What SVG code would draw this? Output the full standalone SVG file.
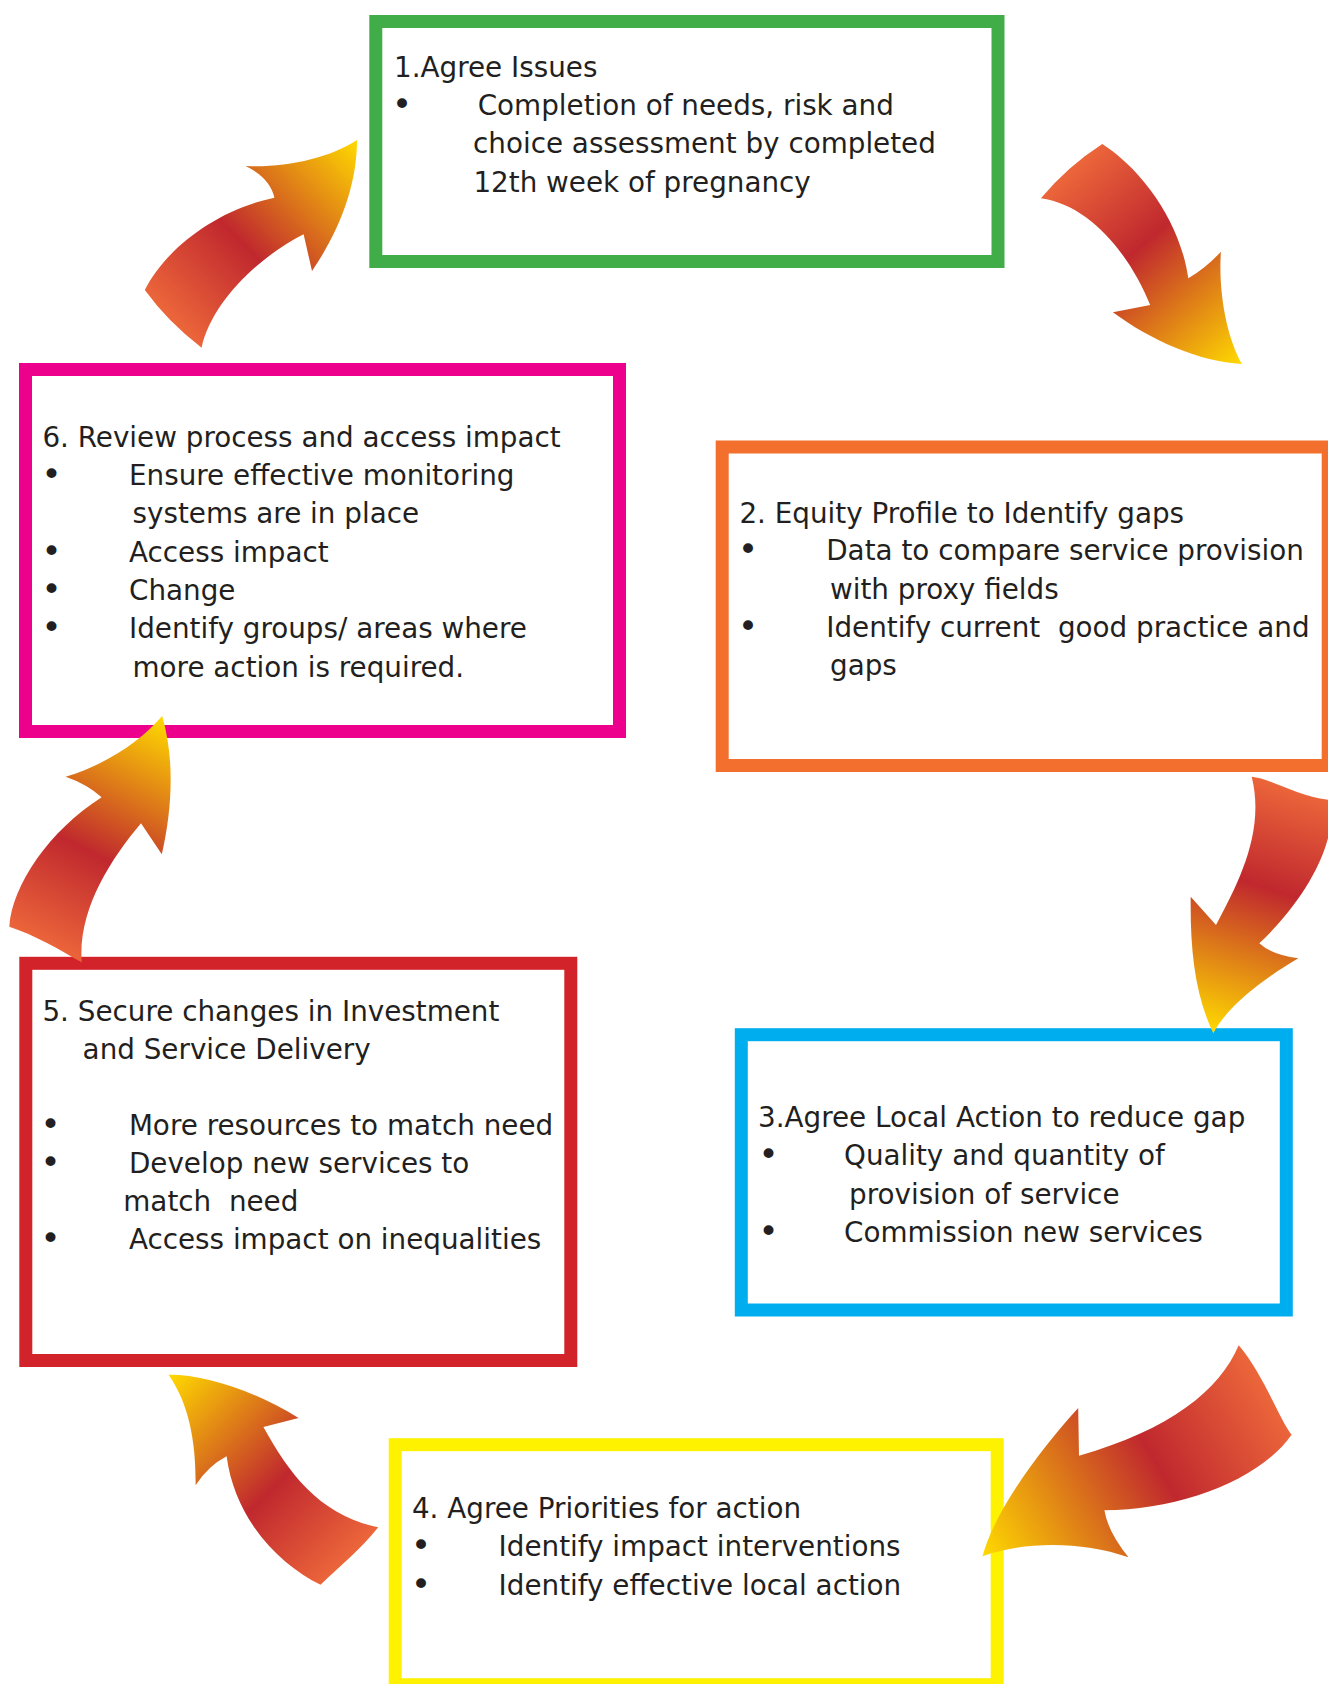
<svg xmlns="http://www.w3.org/2000/svg" width="1328" height="1684" viewBox="0 0 1328 1684">
<style>
.box{fill:#ffffff;stroke-width:13}
.t{font-family:"DejaVu Sans","Verdana",sans-serif;font-size:27.8px;fill:#231f20}
.b{font-family:"DejaVu Sans","Verdana",sans-serif;font-size:34px;fill:#231f20}
.arrow{stroke:none}
</style>
<defs>
<linearGradient id="gA" gradientUnits="userSpaceOnUse" x1="173" y1="319" x2="357" y2="140">
<stop offset="0" stop-color="#EB653A"/><stop offset="0.4" stop-color="#C0282E"/><stop offset="1" stop-color="#FFDA00"/></linearGradient>
<linearGradient id="gB" gradientUnits="userSpaceOnUse" x1="1071" y1="171" x2="1242" y2="364">
<stop offset="0" stop-color="#EB653A"/><stop offset="0.4" stop-color="#C0282E"/><stop offset="1" stop-color="#FFDA00"/></linearGradient>
<linearGradient id="gC" gradientUnits="userSpaceOnUse" x1="1290" y1="788" x2="1213" y2="1033">
<stop offset="0" stop-color="#EB653A"/><stop offset="0.4" stop-color="#C0282E"/><stop offset="1" stop-color="#FFDA00"/></linearGradient>
<linearGradient id="gD" gradientUnits="userSpaceOnUse" x1="1265" y1="1390" x2="982" y2="1556">
<stop offset="0" stop-color="#EB653A"/><stop offset="0.4" stop-color="#C0282E"/><stop offset="1" stop-color="#FFDA00"/></linearGradient>
<linearGradient id="gE" gradientUnits="userSpaceOnUse" x1="349" y1="1556" x2="168" y2="1375">
<stop offset="0" stop-color="#EB653A"/><stop offset="0.4" stop-color="#C0282E"/><stop offset="1" stop-color="#FFDA00"/></linearGradient>
<linearGradient id="gF" gradientUnits="userSpaceOnUse" x1="45" y1="944" x2="162" y2="716">
<stop offset="0" stop-color="#EB653A"/><stop offset="0.4" stop-color="#C0282E"/><stop offset="1" stop-color="#FFDA00"/></linearGradient>
</defs>
<rect x="0" y="0" width="1328" height="1684" fill="#ffffff"/>

<g id="node1">
<rect class="box" x="375.8" y="21.5" width="622.2" height="240" stroke="#40AD48"/>
<text class="t" x="394" y="77.3">1.Agree Issues</text>
<text class="b" x="392" y="116">•</text>
<text class="t" x="477.7" y="115">Completion of needs, risk and</text>
<text class="t" x="473" y="153.3">choice assessment by completed</text>
<text class="t" x="473.4" y="191.6">12th week of pregnancy</text>
</g>

<g id="node2">
<rect class="box" x="722.2" y="447" width="606" height="318.5" stroke="#F26F2D"/>
<text class="t" x="739.4" y="522.7">2. Equity Profile to Identify gaps</text>
<text class="b" x="738" y="561.3">•</text>
<text class="t" x="826.2" y="560.3">Data to compare service provision</text>
<text class="t" x="830" y="598.6">with proxy fields</text>
<text class="b" x="738" y="637.9">•</text>
<text class="t" x="826.2" y="636.9" xml:space="preserve">Identify current  good practice and</text>
<text class="t" x="830" y="675.2">gaps</text>
</g>

<g id="node3">
<rect class="box" x="741.3" y="1034.7" width="545" height="275.3" stroke="#00AEEF"/>
<text class="t" x="758" y="1127">3.Agree Local Action to reduce gap</text>
<text class="b" x="758.6" y="1166.3">•</text>
<text class="t" x="844" y="1165.3">Quality and quantity of</text>
<text class="t" x="849" y="1203.6">provision of service</text>
<text class="b" x="758.6" y="1242.9">•</text>
<text class="t" x="844" y="1241.9">Commission new services</text>
</g>

<g id="node4">
<rect class="box" x="395.2" y="1444.7" width="602" height="240" stroke="#FFF200"/>
<text class="t" x="411.9" y="1518">4. Agree Priorities for action</text>
<text class="b" x="411" y="1557.3">•</text>
<text class="t" x="498.6" y="1556.3">Identify impact interventions</text>
<text class="b" x="411" y="1595.6">•</text>
<text class="t" x="498.6" y="1594.6">Identify effective local action</text>
</g>

<g id="node5">
<rect class="box" x="25.8" y="963.3" width="545" height="397.2" stroke="#D2232A"/>
<text class="t" x="42.4" y="1020.7">5. Secure changes in Investment</text>
<text class="t" x="82.6" y="1058.7">and Service Delivery</text>
<text class="b" x="40.6" y="1136">•</text>
<text class="t" x="128.9" y="1135">More resources to match need</text>
<text class="b" x="40.6" y="1174">•</text>
<text class="t" x="128.9" y="1173">Develop new services to</text>
<text class="t" x="123.3" y="1211" xml:space="preserve">match  need</text>
<text class="b" x="40.6" y="1250.3">•</text>
<text class="t" x="128.9" y="1249.3">Access impact on inequalities</text>
</g>

<g id="node6">
<rect class="box" x="25.5" y="369.5" width="594" height="362" stroke="#EC008C"/>
<text class="t" x="42.4" y="446.7">6. Review process and access impact</text>
<text class="b" x="41.6" y="486">•</text>
<text class="t" x="129" y="485">Ensure effective monitoring</text>
<text class="t" x="132.5" y="523.3">systems are in place</text>
<text class="b" x="41.6" y="562.6">•</text>
<text class="t" x="129" y="561.6">Access impact</text>
<text class="b" x="41.6" y="600.9">•</text>
<text class="t" x="129" y="599.9">Change</text>
<text class="b" x="41.6" y="639.2">•</text>
<text class="t" x="129" y="638.2">Identify groups/ areas where</text>
<text class="t" x="132.5" y="676.5">more action is required.</text>
</g>

<g id="connectors">
<path class="arrow" fill="url(#gA)" d="M357,140 C357,185 340,230 312,271 L303.6,234.3 C262,255 212,300 201.6,347.7 Q168,322 144.8,290 C165,250 215,210 274.4,197.7 Q270,178 245.6,166 C285,168 330,158 357,140 Z"/>
<path class="arrow" fill="url(#gB)" d="M1102.3,144 C1140,168 1180,220 1188.3,278.3 Q1206,268 1220.9,251.7 C1218,295 1228,340 1242,364 C1200,362 1150,340 1112.9,312.3 L1150.2,305 C1130,255 1090,205 1040.9,198.3 Q1068,166 1102.3,144 Z"/>
<path class="arrow" fill="url(#gC)" d="M1251.7,776.7 C1270,778 1300,798 1332,800 C1336,850 1300,905 1259.3,943.3 Q1272,955 1298.3,958.3 C1265,978 1228,1005 1213.3,1033.3 C1195,995 1190,950 1190.7,896.7 L1216,925 C1240,880 1265,830 1251.7,776.7 Z"/>
<path class="arrow" fill="url(#gD)" d="M1238.7,1345.3 C1220,1390 1170,1430 1079,1455.7 L1078.2,1408 C1040,1450 995,1510 982.5,1556.3 C1020,1542 1080,1540 1128.5,1557.3 Q1108,1532 1104.4,1510.3 C1180,1510 1260,1480 1291.6,1434.7 C1280,1420 1262,1372 1238.7,1345.3 Z"/>
<path class="arrow" fill="url(#gE)" d="M168.5,1374.7 C200,1374 250,1388 298.6,1418 L263.4,1427 C290,1475 320,1515 378.2,1527.3 C360,1550 340,1566 320.6,1584.7 C280,1565 235,1520 226.6,1456.3 Q208,1466 195.6,1485.3 C196,1445 190,1405 168.5,1374.7 Z"/>
<path class="arrow" fill="url(#gF)" d="M162.2,716 C175,760 172,810 161.8,854.3 L141,823.3 C110,860 78,910 81.7,962.3 C60,950 35,935 9.3,926.7 C12,885 50,830 101.6,797.3 Q87,784 65.6,776.7 C105,765 140,742 162.2,716 Z"/>
</g>
</svg>
